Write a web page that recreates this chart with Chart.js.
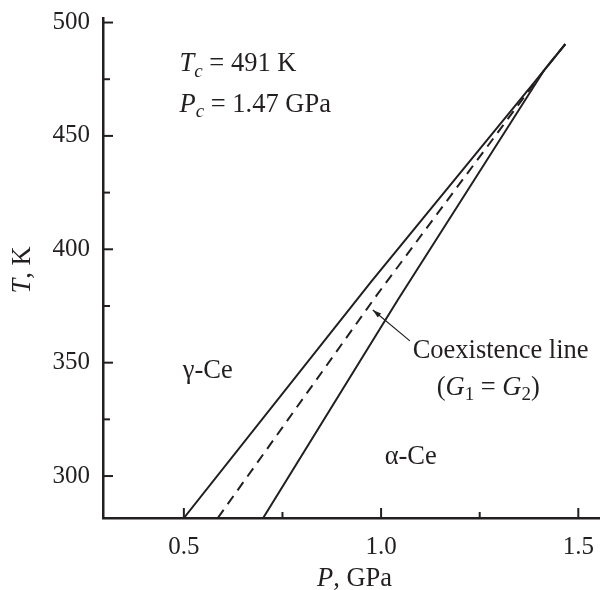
<!DOCTYPE html>
<html>
<head>
<meta charset="utf-8">
<script src="https://cdn.jsdelivr.net/npm/chart.js@4.4.0/dist/chart.umd.min.js"></script>
<style>
  html, body { margin: 0; padding: 0; background: #fff; }
  #wrap { width: 600px; height: 590px; }
</style>
</head>
<body>
<div id="wrap"><canvas id="chart-1"></canvas></div>
<script>
// boundary of gamma-Ce (left solid line)
const gammaP = [0.5, 0.976, 1.42, 1.467];
const gammaT = [281.5, 386.0, 480.3, 490.5];
// coexistence line (dashed)
const coexP = [0.586, 0.99, 1.415, 1.467];
const coexT = [281.5, 380.0, 479.4, 490.5];
// boundary of alpha-Ce (right solid line)
const alphaP = [0.701, 1.043, 1.415, 1.467];
const alphaT = [281.5, 377.9, 479.4, 490.5];

const xTicks = [0.5, 0.75, 1.0, 1.25, 1.5];
const xLabels = [0.5, 1.0, 1.5];
const yTicks = [300, 325, 350, 375, 400, 425, 450, 475, 500];
const yLabels = [300, 350, 400, 450, 500];

const ink = '#231f20';
const serif = '"Liberation Serif", "DejaVu Serif", serif';
const txt = 26.5;

const pts = (xs, ys) => xs.map((x, i) => ({ x: x, y: ys[i] }));

// draws a row of text runs (italic / subscript) starting at x
function drawRuns(ctx, x, y, parts, size, align) {
  const fontOf = p => (p.i ? 'italic ' : '') + (p.sub ? Math.round(size * 0.72) : size) + 'px ' + serif;
  let total = 0;
  parts.forEach(p => { ctx.font = fontOf(p); total += ctx.measureText(p.t).width; });
  let cx = align === 'center' ? x - total / 2 : x;
  ctx.textBaseline = 'middle';
  ctx.textAlign = 'left';
  parts.forEach(p => {
    ctx.font = fontOf(p);
    ctx.fillText(p.t, cx, y + (p.sub ? size * 0.28 : 0));
    cx += ctx.measureText(p.t).width;
  });
}

const decor = {
  id: 'decor',
  afterDraw(chart) {
    const ctx = chart.ctx;
    const xs = chart.scales.x, ys = chart.scales.y;
    const a = chart.chartArea;
    ctx.save();
    ctx.strokeStyle = ink;
    ctx.fillStyle = ink;
    ctx.lineWidth = 2;
    // inward tick marks
    xTicks.forEach(v => {
      const px = xs.getPixelForValue(v);
      const len = xLabels.includes(v) ? 10 : 6;
      ctx.beginPath(); ctx.moveTo(px, a.bottom); ctx.lineTo(px, a.bottom - len); ctx.stroke();
    });
    yTicks.forEach(v => {
      const py = ys.getPixelForValue(v);
      const len = yLabels.includes(v) ? 10 : 7;
      ctx.beginPath(); ctx.moveTo(a.left, py); ctx.lineTo(a.left + len, py); ctx.stroke();
    });

    // arrow to the coexistence line
    const tx = xs.getPixelForValue(0.979), ty = ys.getPixelForValue(373.2);
    const fx = xs.getPixelForValue(1.073), fy = ys.getPixelForValue(359.6);
    ctx.lineWidth = 1.2;
    ctx.beginPath(); ctx.moveTo(fx, fy); ctx.lineTo(tx, ty); ctx.stroke();
    const ang = Math.atan2(ty - fy, tx - fx);
    ctx.beginPath();
    ctx.moveTo(tx, ty);
    ctx.lineTo(tx - 9 * Math.cos(ang - 0.3), ty - 9 * Math.sin(ang - 0.3));
    ctx.lineTo(tx - 9 * Math.cos(ang + 0.3), ty - 9 * Math.sin(ang + 0.3));
    ctx.closePath(); ctx.fill();

    const at = (p, t) => [xs.getPixelForValue(p), ys.getPixelForValue(t)];
    let q;
    q = at(0.489, 481.6);
    drawRuns(ctx, q[0], q[1], [{ t: 'T', i: true }, { t: 'c', i: true, sub: true }, { t: ' = 491 K' }], txt);
    q = at(0.489, 463.6);
    drawRuns(ctx, q[0], q[1], [{ t: 'P', i: true }, { t: 'c', i: true, sub: true }, { t: ' = 1.47 GPa' }], txt);
    q = at(0.497, 346.5);
    drawRuns(ctx, q[0], q[1], [{ t: 'γ-Ce' }], txt);
    q = at(1.009, 308.3);
    drawRuns(ctx, q[0], q[1], [{ t: 'α-Ce' }], txt);
    q = at(1.080, 355.3);
    drawRuns(ctx, q[0], q[1], [{ t: 'Coexistence line' }], txt);
    q = at(1.141, 339);
    drawRuns(ctx, q[0], q[1], [{ t: '(' }, { t: 'G', i: true }, { t: '1', sub: true }, { t: ' = ' },
      { t: 'G', i: true }, { t: '2', sub: true }, { t: ')' }], txt);

    // axis titles
    drawRuns(ctx, (a.left + a.right) / 2 + 3, a.bottom + 61, [{ t: 'P', i: true }, { t: ', GPa' }], txt, 'center');
    ctx.translate(23, (a.top + a.bottom) / 2 + 2);
    ctx.rotate(-Math.PI / 2);
    drawRuns(ctx, 0, 0, [{ t: 'T', i: true }, { t: ', K' }], txt, 'center');
    ctx.restore();
  }
};

const lineStyle = { borderColor: ink, borderWidth: 2, pointRadius: 0, showLine: true, tension: 0, fill: false };

new Chart(document.getElementById('chart-1').getContext('2d'), {
  type: 'scatter',
  data: {
    datasets: [
      Object.assign({ label: 'gamma', data: pts(gammaP, gammaT) }, lineStyle),
      Object.assign({ label: 'coexistence', data: pts(coexP, coexT), borderDash: [10, 7] }, lineStyle),
      Object.assign({ label: 'alpha', data: pts(alphaP, alphaT) }, lineStyle)
    ]
  },
  options: {
    responsive: true,
    maintainAspectRatio: false,
    animation: false,
    layout: { padding: { top: 18, right: 0, left: 0, bottom: 0 } },
    plugins: { legend: { display: false }, tooltip: { enabled: false } },
    scales: {
      x: {
        type: 'linear',
        min: 0.295,
        max: 1.555,
        afterBuildTicks: s => { s.ticks = xTicks.map(v => ({ value: v })); },
        afterFit: s => { s.height = 72; s.paddingLeft = 0; s.paddingRight = 0; },
        grid: { display: false, drawTicks: false },
        border: { display: true, color: ink, width: 2.5 },
        ticks: {
          padding: 14,
          color: ink,
          font: { family: serif, size: 25 },
          maxRotation: 0,
          autoSkip: false,
          callback: v => xLabels.includes(v) ? v.toFixed(1) : ''
        }
      },
      y: {
        type: 'linear',
        min: 281.5,
        max: 502,
        afterBuildTicks: s => { s.ticks = yTicks.map(v => ({ value: v })); },
        afterFit: s => { s.width = 103; s.paddingTop = 0; s.paddingBottom = 0; },
        grid: { display: false, drawTicks: false },
        border: { display: true, color: ink, width: 2.5 },
        ticks: {
          padding: 13,
          color: ink,
          font: { family: serif, size: 25 },
          autoSkip: false,
          callback: v => yLabels.includes(v) ? String(v) : ''
        }
      }
    }
  },
  plugins: [decor]
});
</script>
</body>
</html>
